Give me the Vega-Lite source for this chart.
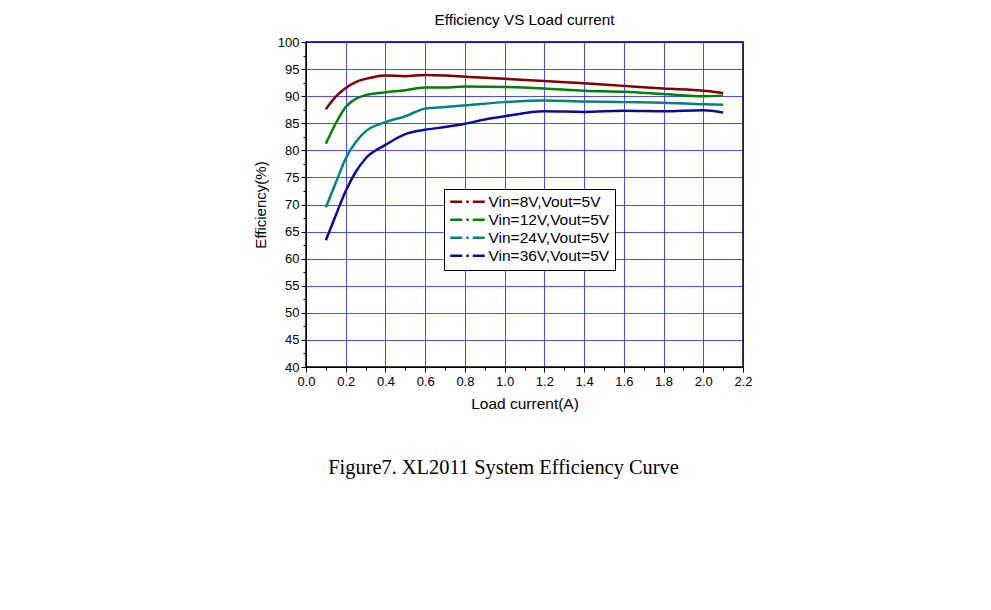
{
  "$schema": "https://vega.github.io/schema/vega-lite/v6.json",
  "autosize": {"type": "none"},
  "width": 437,
  "height": 325,
  "padding": {"left": 306, "top": 42, "right": 248, "bottom": 243},
  "background": "white",
  "title": {
    "text": "Efficiency VS Load current",
    "font": "Liberation Sans",
    "fontSize": 15.3,
    "fontWeight": "normal",
    "color": "black",
    "offset": 8,
    "anchor": "middle"
  },
  "config": {
    "view": {"stroke": "black", "strokeWidth": 1.5},
    "axis": {
      "labelFont": "Liberation Sans",
      "titleFont": "Liberation Sans",
      "labelColor": "black",
      "titleColor": "black",
      "domainColor": "black",
      "tickColor": "black",
      "titleFontWeight": "normal"
    }
  },
  "data": {
    "values": [
      {"I": 0.1, "eff": 87.6, "s": "Vin=8V,Vout=5V"},
      {"I": 0.15, "eff": 89.9, "s": "Vin=8V,Vout=5V"},
      {"I": 0.2, "eff": 91.5, "s": "Vin=8V,Vout=5V"},
      {"I": 0.25, "eff": 92.6, "s": "Vin=8V,Vout=5V"},
      {"I": 0.3, "eff": 93.2, "s": "Vin=8V,Vout=5V"},
      {"I": 0.35, "eff": 93.6, "s": "Vin=8V,Vout=5V"},
      {"I": 0.4, "eff": 93.8, "s": "Vin=8V,Vout=5V"},
      {"I": 0.5, "eff": 93.7, "s": "Vin=8V,Vout=5V"},
      {"I": 0.6, "eff": 93.9, "s": "Vin=8V,Vout=5V"},
      {"I": 0.7, "eff": 93.8, "s": "Vin=8V,Vout=5V"},
      {"I": 0.8, "eff": 93.6, "s": "Vin=8V,Vout=5V"},
      {"I": 0.9, "eff": 93.4, "s": "Vin=8V,Vout=5V"},
      {"I": 1.0, "eff": 93.2, "s": "Vin=8V,Vout=5V"},
      {"I": 1.2, "eff": 92.8, "s": "Vin=8V,Vout=5V"},
      {"I": 1.4, "eff": 92.4, "s": "Vin=8V,Vout=5V"},
      {"I": 1.6, "eff": 91.9, "s": "Vin=8V,Vout=5V"},
      {"I": 1.8, "eff": 91.4, "s": "Vin=8V,Vout=5V"},
      {"I": 2.0, "eff": 91.0, "s": "Vin=8V,Vout=5V"},
      {"I": 2.1, "eff": 90.6, "s": "Vin=8V,Vout=5V"},
      {"I": 0.1, "eff": 81.2, "s": "Vin=12V,Vout=5V"},
      {"I": 0.15, "eff": 85.0, "s": "Vin=12V,Vout=5V"},
      {"I": 0.2, "eff": 88.0, "s": "Vin=12V,Vout=5V"},
      {"I": 0.25, "eff": 89.5, "s": "Vin=12V,Vout=5V"},
      {"I": 0.3, "eff": 90.2, "s": "Vin=12V,Vout=5V"},
      {"I": 0.4, "eff": 90.7, "s": "Vin=12V,Vout=5V"},
      {"I": 0.5, "eff": 91.1, "s": "Vin=12V,Vout=5V"},
      {"I": 0.6, "eff": 91.6, "s": "Vin=12V,Vout=5V"},
      {"I": 0.7, "eff": 91.6, "s": "Vin=12V,Vout=5V"},
      {"I": 0.8, "eff": 91.8, "s": "Vin=12V,Vout=5V"},
      {"I": 1.0, "eff": 91.7, "s": "Vin=12V,Vout=5V"},
      {"I": 1.2, "eff": 91.4, "s": "Vin=12V,Vout=5V"},
      {"I": 1.4, "eff": 91.0, "s": "Vin=12V,Vout=5V"},
      {"I": 1.6, "eff": 90.8, "s": "Vin=12V,Vout=5V"},
      {"I": 1.8, "eff": 90.4, "s": "Vin=12V,Vout=5V"},
      {"I": 2.0, "eff": 90.0, "s": "Vin=12V,Vout=5V"},
      {"I": 2.1, "eff": 90.1, "s": "Vin=12V,Vout=5V"},
      {"I": 0.1, "eff": 69.5, "s": "Vin=24V,Vout=5V"},
      {"I": 0.15, "eff": 74.0, "s": "Vin=24V,Vout=5V"},
      {"I": 0.2, "eff": 78.5, "s": "Vin=24V,Vout=5V"},
      {"I": 0.25, "eff": 81.5, "s": "Vin=24V,Vout=5V"},
      {"I": 0.3, "eff": 83.5, "s": "Vin=24V,Vout=5V"},
      {"I": 0.4, "eff": 85.2, "s": "Vin=24V,Vout=5V"},
      {"I": 0.5, "eff": 86.3, "s": "Vin=24V,Vout=5V"},
      {"I": 0.6, "eff": 87.7, "s": "Vin=24V,Vout=5V"},
      {"I": 0.7, "eff": 88.0, "s": "Vin=24V,Vout=5V"},
      {"I": 0.8, "eff": 88.3, "s": "Vin=24V,Vout=5V"},
      {"I": 1.0, "eff": 88.9, "s": "Vin=24V,Vout=5V"},
      {"I": 1.2, "eff": 89.2, "s": "Vin=24V,Vout=5V"},
      {"I": 1.4, "eff": 89.0, "s": "Vin=24V,Vout=5V"},
      {"I": 1.6, "eff": 88.9, "s": "Vin=24V,Vout=5V"},
      {"I": 1.8, "eff": 88.8, "s": "Vin=24V,Vout=5V"},
      {"I": 2.0, "eff": 88.5, "s": "Vin=24V,Vout=5V"},
      {"I": 2.1, "eff": 88.4, "s": "Vin=24V,Vout=5V"},
      {"I": 0.1, "eff": 63.4, "s": "Vin=36V,Vout=5V"},
      {"I": 0.15, "eff": 68.0, "s": "Vin=36V,Vout=5V"},
      {"I": 0.2, "eff": 72.5, "s": "Vin=36V,Vout=5V"},
      {"I": 0.25, "eff": 76.0, "s": "Vin=36V,Vout=5V"},
      {"I": 0.3, "eff": 78.5, "s": "Vin=36V,Vout=5V"},
      {"I": 0.4, "eff": 81.0, "s": "Vin=36V,Vout=5V"},
      {"I": 0.5, "eff": 83.0, "s": "Vin=36V,Vout=5V"},
      {"I": 0.6, "eff": 83.8, "s": "Vin=36V,Vout=5V"},
      {"I": 0.7, "eff": 84.3, "s": "Vin=36V,Vout=5V"},
      {"I": 0.8, "eff": 84.9, "s": "Vin=36V,Vout=5V"},
      {"I": 0.9, "eff": 85.7, "s": "Vin=36V,Vout=5V"},
      {"I": 1.0, "eff": 86.3, "s": "Vin=36V,Vout=5V"},
      {"I": 1.2, "eff": 87.2, "s": "Vin=36V,Vout=5V"},
      {"I": 1.4, "eff": 87.1, "s": "Vin=36V,Vout=5V"},
      {"I": 1.6, "eff": 87.3, "s": "Vin=36V,Vout=5V"},
      {"I": 1.8, "eff": 87.2, "s": "Vin=36V,Vout=5V"},
      {"I": 2.0, "eff": 87.4, "s": "Vin=36V,Vout=5V"},
      {"I": 2.1, "eff": 87.0, "s": "Vin=36V,Vout=5V"}
    ]
  },
  "resolve": {"axis": {"x": "independent", "y": "independent"}},
  "layer": [
    {
      "mark": {"type": "line", "interpolate": "monotone", "strokeWidth": 2.5},
      "encoding": {
        "x": {
          "field": "I",
          "type": "quantitative",
          "scale": {"domain": [0, 2.2], "nice": false, "zero": false},
          "axis": {
            "orient": "bottom",
            "title": "Load current(A)",
            "titleFontSize": 15.5,
            "titlePadding": 8,
            "labelFontSize": 13,
            "labelPadding": 3,
            "tickSize": 5,
            "format": ".1f",
            "values": [0, 0.2, 0.4, 0.6, 0.8, 1.0, 1.2, 1.4, 1.6, 1.8, 2.0, 2.2],
            "labelFlush": false,
            "labelOverlap": false,
            "grid": true,
            "gridColor": "#0000ff",
            "gridOpacity": 0.7,
            "gridWidth": 1
          }
        },
        "y": {
          "field": "eff",
          "type": "quantitative",
          "scale": {"domain": [40, 100], "nice": false, "zero": false},
          "axis": {
            "orient": "left",
            "title": "Efficiency(%)",
            "titleFontSize": 15,
            "titlePadding": 9,
            "labelFontSize": 13,
            "labelPadding": 2,
            "tickSize": 5,
            "values": [40, 45, 50, 55, 60, 65, 70, 75, 80, 85, 90, 95, 100],
            "labelFlush": false,
            "labelOverlap": false,
            "grid": true,
            "gridColor": "#0000ff",
            "gridOpacity": 0.7,
            "gridWidth": 1
          }
        },
        "color": {
          "field": "s",
          "type": "nominal",
          "sort": ["Vin=8V,Vout=5V", "Vin=12V,Vout=5V", "Vin=24V,Vout=5V", "Vin=36V,Vout=5V"],
          "scale": {
            "domain": ["Vin=8V,Vout=5V", "Vin=12V,Vout=5V", "Vin=24V,Vout=5V", "Vin=36V,Vout=5V"],
            "range": ["#800000", "#008000", "#008080", "#0a0a9a"]
          },
          "legend": {
            "title": null,
            "orient": "none",
            "legendX": 138,
            "legendY": 147,
            "strokeColor": "black",
            "fillColor": "white",
            "padding": 5,
            "cornerRadius": 0,
            "symbolType": "M-1.3,0H5.6",
            "symbolSize": 100,
            "symbolStrokeWidth": 2.5,
            "symbolDash": [12, 4, 2.5, 4],
            "labelFont": "Liberation Sans",
            "labelFontSize": 15.5,
            "labelColor": "black",
            "labelOffset": 24,
            "rowPadding": 1,
            "labelLimit": 300
          }
        }
      }
    },
    {
      "mark": {"type": "line", "strokeOpacity": 0},
      "encoding": {
        "x": {
          "field": "I",
          "type": "quantitative",
          "axis": {
            "orient": "bottom",
            "values": [0.1, 0.3, 0.5, 0.7, 0.9, 1.1, 1.3, 1.5, 1.7, 1.9, 2.1],
            "labels": false,
            "domain": false,
            "grid": false,
            "tickSize": 3,
            "title": "Figure7. XL2011 System Efficiency Curve",
            "titleFont": "Liberation Serif",
            "titleFontSize": 20.4,
            "titleFontWeight": "normal",
            "titleAlign": "center",
            "titleBaseline": "middle",
            "titleX": 197,
            "titleY": 100
          }
        },
        "y": {
          "field": "eff",
          "type": "quantitative",
          "axis": {
            "orient": "left",
            "values": [42.5, 47.5, 52.5, 57.5, 62.5, 67.5, 72.5, 77.5, 82.5, 87.5, 92.5, 97.5],
            "labels": false,
            "domain": false,
            "grid": false,
            "tickSize": 3,
            "title": null
          }
        },
        "detail": {"field": "s", "type": "nominal"}
      }
    }
  ]
}
